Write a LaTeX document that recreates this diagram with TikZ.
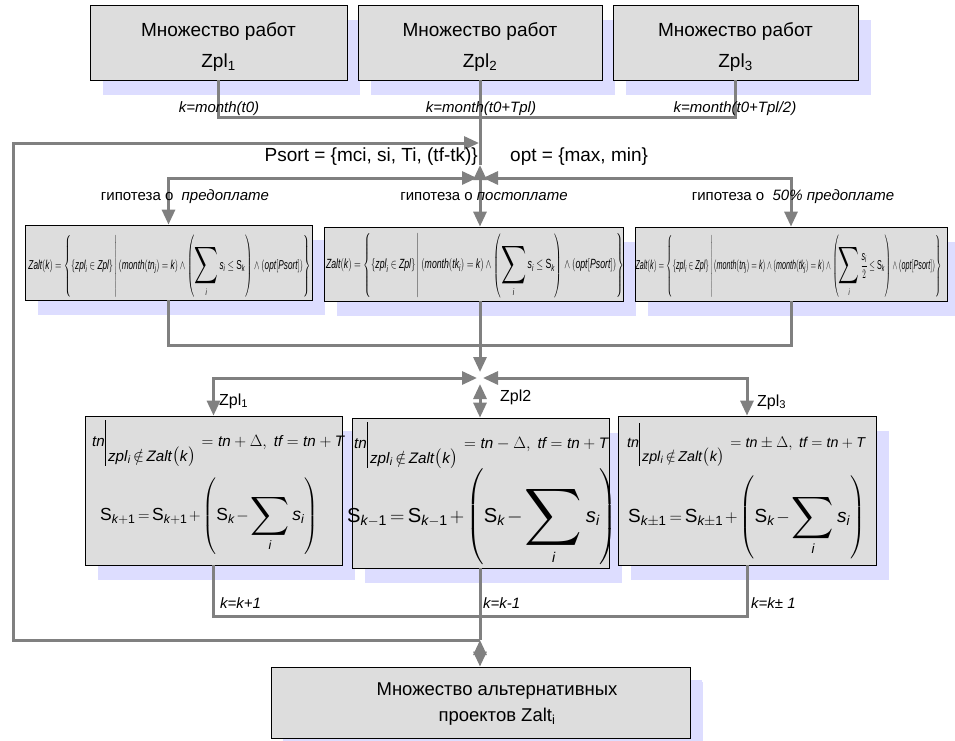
\documentclass[tikz,border=0pt]{standalone}
\usepackage{amsmath}
\usepackage{graphicx}
\usepackage{fontspec}
\setmainfont{Liberation Sans}
\usetikzlibrary{arrows.meta,shadows}

\definecolor{boxfill}{RGB}{221,221,221}
\definecolor{shadowc}{RGB}{221,221,255}
\definecolor{linec}{RGB}{128,128,128}

\newcommand{\myit}[1]{\textit{#1}}
\newcommand{\bsum}[1]{\mathop{\vcenter{\hbox{\scalebox{#1}{$\displaystyle\sum$}}}}\limits}
\newcommand{\tnline}[1]{\myit{tn}\vrule height 1.7em depth 1.3em width 0.06em\kern0.15em\raisebox{-1.0em}{\myit{zpl}$_{\myit{i}}$\,$\notin$\,\myit{Zalt}$\bigl($\myit{k}$\bigr)$}\kern0.1em$\;=\myit{tn}#1\Delta,\ \myit{tf}=\myit{tn}+\myit{T}$}
\newcommand{\sline}[2]{$\thickmuskip=3mu\medmuskip=2mu\displaystyle\text{S}_{\myit{k}#1\text{1}}=\text{S}_{\myit{k}#1\text{1}}+\left(\rule[-2.0em]{0pt}{4.0em}\text{S}_{\myit{k}}-\bsum{#2}_{\myit{i}}\myit{s}_{\myit{i}}\right)$}
\newcommand{\zform}[1]{$\displaystyle\myit{Zalt}(\myit{k})=\left\{\rule[-1.9em]{0pt}{4.0em}\{\myit{zpl}_{\myit{i}}\in\myit{Zpl}\}\,\middle|\,#1\wedge(\myit{opt}[\myit{Psort}])\right\}$}

\tikzset{
  box/.style={draw=black, line width=0.8pt, fill=boxfill, inner sep=0pt, align=center,
    general shadow={fill=shadowc, shadow xshift=12.5pt, shadow yshift=-15pt}},
  boxtxt/.style={font=\fontsize{19}{31}\selectfont, align=center, inner sep=0pt},
  conn/.style={draw=linec, line width=3pt},
  tip/.style={-{Triangle[length=15pt,width=13pt]}},
  dtip/.style={{Triangle[length=15pt,width=13pt]}-{Triangle[length=15pt,width=13pt]}},
  klbl/.style={font=\fontsize{15}{17}\selectfont\itshape, inner sep=0pt},
  hlbl/.style={font=\fontsize{15}{17}\selectfont, inner sep=0pt},
  zlbl/.style={font=\fontsize{16}{18}\selectfont, inner sep=0pt, anchor=west},
  plbl/.style={font=\fontsize{19}{21}\selectfont, inner sep=0pt},
  form/.style={inner sep=0pt},
}

\begin{document}
\begin{tikzpicture}[x=1pt,y=-1pt]
\fill[white] (0,0) rectangle (955,740);
\useasboundingbox (0,0) rectangle (955,740);

% top boxes
\node[box, minimum width=257pt, minimum height=75pt] (T1) at (218.5,42.5) {};
\node[box, minimum width=244pt, minimum height=75pt] (T2) at (480,42.5) {};
\node[box, minimum width=245pt, minimum height=75pt] (T3) at (735.5,42.5) {};
\node[boxtxt] (T1t) at (218.5,47) {Множество работ\\Zpl\textsubscript{1}};
\node[boxtxt] (T2t) at (480,47) {Множество работ\\Zpl\textsubscript{2}};
\node[boxtxt] (T3t) at (735.5,47) {Множество работ\\Zpl\textsubscript{3}};

% middle boxes
\node[box, minimum width=287pt, minimum height=75pt] (MA) at (168.5,262.5) {};
\node[box, minimum width=299pt, minimum height=74pt] (MB) at (473.5,264) {};
\node[box, minimum width=312pt, minimum height=74pt] (MC) at (791,264) {};

\node[form] (FA) at (169.5,266) {\resizebox*{282pt}{62pt}{\zform{(\myit{month}(\myit{tn}_{\myit{j}})=\myit{k})\wedge\left(\bsum{2.0}_{\myit{i}}\myit{s}_{\myit{i}}\le\text{S}_{\myit{k}}\right)}}};
\node[form] (FB) at (475,265.5) {\resizebox*{298pt}{64pt}{\zform{(\myit{month}(\myit{tk}_{\myit{i}})=\myit{k})\wedge\left(\bsum{2.0}_{\myit{i}}\myit{s}_{\myit{i}}\le\text{S}_{\myit{k}}\right)}}};
\node[form] (FC) at (788.5,266) {\resizebox*{306pt}{62pt}{\zform{(\myit{month}(\myit{tn}_{\myit{j}})=\myit{k})\wedge(\myit{month}(\myit{tk}_{\myit{j}})=\myit{k})\wedge\left(\bsum{2.0}_{\myit{i}}\frac{\myit{s}_{\myit{i}}}{2}\le\text{S}_{\myit{k}}\right)}}};

% bottom boxes
\node[box, minimum width=257pt, minimum height=149pt] (BD) at (213.5,490.5) {};
\node[box, minimum width=257pt, minimum height=150pt] (BE) at (480.5,493) {};
\node[box, minimum width=258pt, minimum height=149pt] (BF) at (747,490.5) {};

\node[form, anchor=base west, font=\fontsize{16}{18}\selectfont] (D1) at (92,446) {\resizebox{252pt}{!}{\tnline{+}}};
\node[form, anchor=base west, font=\fontsize{16}{18}\selectfont] (E1) at (354,448) {\resizebox{254pt}{!}{\tnline{-}}};
\node[form, anchor=base west, font=\fontsize{16}{18}\selectfont] (F1) at (627,447) {\resizebox{238pt}{!}{\tnline{\pm}}};
\node[form, anchor=base west, font=\fontsize{19}{21}\selectfont] (D2) at (100,520) {\resizebox{218pt}{!}{\sline{+}{1.7}}};
\node[form, anchor=base west, font=\fontsize{21}{23}\selectfont] (E2) at (347,522) {\resizebox{270pt}{!}{\sline{-}{2.0}}};
\node[form, anchor=base west, font=\fontsize{19}{21}\selectfont] (F2) at (628,522) {\resizebox{237pt}{!}{\sline{\pm}{1.7}}};

% final box
\node[box, minimum width=419pt, minimum height=71pt, general shadow={fill=shadowc, shadow xshift=12pt, shadow yshift=-13pt}] (Z) at (480.5,702.5) {};
\node[boxtxt, font=\fontsize{18.5}{26}\selectfont] (Zt) at (497,704) {Множество альтернативных\\проектов Zalt\textsubscript{i}};

% coordinates
\coordinate (b1) at (480,117);
\coordinate (J1up) at (480,165);
\coordinate (J1l) at (477,178);
\coordinate (J1r) at (483,178);
\coordinate (b2) at (480,345);
\coordinate (J2up) at (480,372);
\coordinate (J2l) at (477,378);
\coordinate (J2r) at (483,378);
\coordinate (J2dn) at (480,384);
\coordinate (b3) at (480,616);
\coordinate (J3) at (480,640);
\coordinate (fb1) at (13,640);
\coordinate (fb2) at (13,143);
\coordinate (fb3) at (479,143);

% connectors top
\draw[conn] (T1.south) |- (b1);
\draw[conn] (T3.south) |- (b1);
\draw[conn] (T2.south) -- (J1up);
\draw[conn, tip] (J3) -- (fb1) -- (fb2) -- (fb3);
\draw[conn, dtip] (MA.north) |- (J1l);
\draw[conn, dtip] (MC.north) |- (J1r);
\draw[conn, dtip] (J1up) -- (MB.north -| J1up);

% connectors middle
\draw[conn] (MA.south) |- (b2);
\draw[conn] (MC.south) |- (b2);
\draw[conn] (MB.south -| b2) -- (b2);
\draw[conn, tip] (b2) -- (J2up);
\draw[conn, dtip] (BD.north) |- (J2l);
\draw[conn, dtip] (BF.north) |- (J2r);
\draw[conn, dtip] (J2dn) -- (BE.north -| J2dn);

% connectors bottom
\draw[conn] (BD.south) |- (b3);
\draw[conn] (BF.south) |- (b3);
\draw[conn] (BE.south -| b3) -- (J3);
\draw[conn, dtip] (J3) -- (Z.north -| J3);

% labels
\node[klbl] (k1) at (219,109) {k=month(t0)};
\node[klbl] (k2) at (481,109) {k=month(t0+Tpl)};
\node[klbl] (k3) at (735,109) {k=month(t0+Tpl/2)};
\node[plbl, anchor=east] (ps) at (478,157) {Psort = \{mci, si, Ti, (tf-tk)\}};
\node[plbl, anchor=west] (op) at (510,157) {opt = \{max, min\}};
\node[hlbl] (h1) at (185,197) {гипотеза о \ \textit{предоплате}};
\node[hlbl] (h2) at (484,197) {гипотеза о \textit{постоплате}};
\node[hlbl] (h3) at (793,197) {гипотеза о \ \textit{50\% предоплате}};
\node[zlbl] (z1) at (219,401) {Zpl\textsubscript{1}};
\node[zlbl] (z2) at (500,397) {Zpl2};
\node[zlbl] (z3) at (757,402) {Zpl\textsubscript{3}};
\node[klbl, anchor=west] (kk1) at (220,603) {k=k+1};
\node[klbl, anchor=west] (kk2) at (483,603) {k=k-1};
\node[klbl, anchor=west] (kk3) at (751,603) {k=k± 1};
\end{tikzpicture}
\end{document}
